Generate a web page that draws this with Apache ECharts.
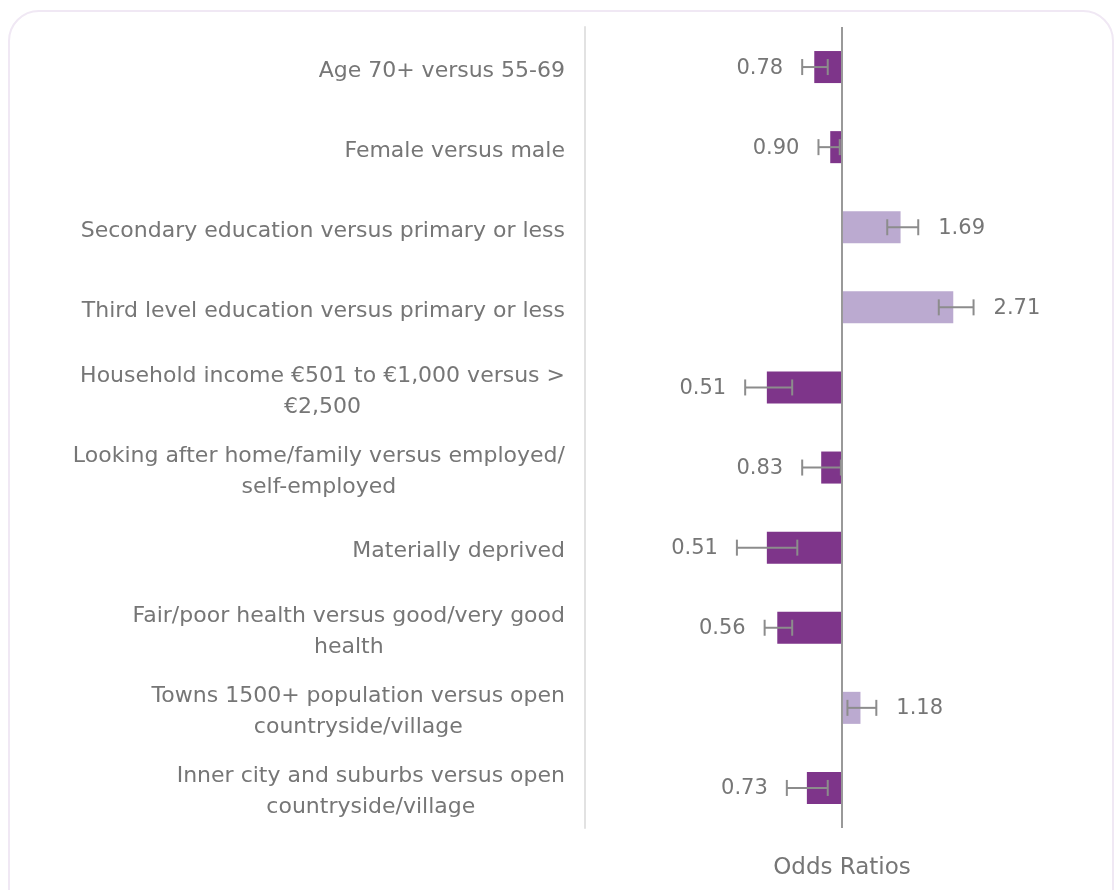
<!DOCTYPE html>
<html>
<head>
<meta charset="utf-8">
<script src="https://cdn.jsdelivr.net/npm/echarts@6/dist/echarts.min.js"></script>
<style>
  html, body { margin: 0; padding: 0; background: #fff; }
  #odds-ratio-chart { width: 1116px; height: 890px; }
</style>
</head>
<body>
<div id="odds-ratio-chart"></div>
<script>
// categories, top to bottom
const categories = [
  "Age 70+ versus 55-69",
  "Female versus male",
  "Secondary education versus primary or less",
  "Third level education versus primary or less",
  "Household income €501 to €1,000 versus >\n€2,500",
  "Looking after home/family versus employed/\nself-employed",
  "Materially deprived",
  "Fair/poor health versus good/very good\nhealth",
  "Towns 1500+ population versus open\ncountryside/village",
  "Inner city and suburbs versus open\ncountryside/village"
];
const oddsRatios = [0.78, 0.90, 1.69, 2.71, 0.51, 0.83, 0.51, 0.56, 1.18, 0.73];
// confidence interval ends
const ciLower = [0.70, 0.81, 1.50, 2.38, 0.42, 0.70, 0.39, 0.50, 1.05, 0.61];
const ciUpper = [0.88, 0.98, 1.98, 3.25, 0.64, 0.99, 0.67, 0.64, 1.36, 0.88];

const chartDom = document.getElementById("odds-ratio-chart");
const myChart = echarts.init(chartDom);

const fontFamily = "'DejaVu Sans', 'Open Sans', sans-serif";
const textColor = "#767676";
const darkPurple = "#7e358a";
const lightPurple = "#bbaad0";

let data = categories.map((c, i) => [i, oddsRatios[i], ciLower[i], ciUpper[i]]);

function renderItem(params, api) {
  const idx = api.value(0);
  const or = api.value(1);
  const lo = api.value(2);
  const hi = api.value(3);
  const base = api.coord([1, idx]);
  const end = api.coord([or, idx]);
  const pLo = api.coord([lo, idx]);
  const pHi = api.coord([hi, idx]);
  const bandH = api.size([0, 1])[1];
  const barH = bandH * 0.4;
  const y = base[1];
  const capH = 16;
  const errColor = "#8c8c8c";
  const below = or < 1;
  return {
    type: "group",
    children: [
      {
        type: "rect",
        shape: {
          x: Math.min(base[0], end[0]),
          y: y - barH / 2,
          width: Math.abs(end[0] - base[0]),
          height: barH
        },
        style: { fill: below ? darkPurple : lightPurple }
      },
      {
        type: "line",
        shape: { x1: pLo[0], y1: y, x2: pHi[0], y2: y },
        style: { stroke: errColor, lineWidth: 2 }
      },
      {
        type: "line",
        shape: { x1: pLo[0], y1: y - capH / 2, x2: pLo[0], y2: y + capH / 2 },
        style: { stroke: errColor, lineWidth: 2 }
      },
      {
        type: "line",
        shape: { x1: pHi[0], y1: y - capH / 2, x2: pHi[0], y2: y + capH / 2 },
        style: { stroke: errColor, lineWidth: 2 }
      },
      {
        type: "text",
        style: {
          text: or.toFixed(2),
          x: below ? pLo[0] - 19 : pHi[0] + 20,
          y: y + 1,
          align: below ? "right" : "left",
          verticalAlign: "middle",
          fill: textColor,
          font: "21px " + fontFamily
        }
      }
    ]
  };
}

let option = {
  animation: false,
  graphic: [
    {
      type: "rect",
      shape: { x: 9, y: 11, width: 1104, height: 920, r: 30 },
      style: { fill: "none", stroke: "#f0e8f4", lineWidth: 2 },
      z: -10
    }
  ],
  grid: {
    left: 585,
    right: 17,
    top: 27,
    bottom: 62,
    containLabel: false,
    outerBoundsMode: "none"
  },
  xAxis: {
    type: "log",
    logBase: 10,
    min: 0.1,
    max: 10,
    name: "Odds Ratios",
    nameLocation: "middle",
    nameGap: 29,
    nameTextStyle: {
      color: textColor,
      fontSize: 23,
      fontFamily: fontFamily
    },
    axisLine: { show: false },
    axisTick: { show: false },
    axisLabel: { show: false },
    splitLine: { show: false }
  },
  yAxis: {
    type: "category",
    data: categories,
    inverse: true,
    axisLine: {
      show: true,
      lineStyle: { color: "#e2e2e2", width: 2 }
    },
    axisTick: { show: false },
    splitLine: { show: false },
    axisLabel: {
      margin: 20,
      align: "right",
      padding: [8, 0, 0, 0],
      // each line centred inside the right-aligned block
      formatter: (val) => val.split("\n").map((l) => "{c|" + l + "}").join("\n"),
      rich: {
        c: {
          align: "center",
          color: textColor,
          fontSize: 22,
          fontFamily: fontFamily,
          lineHeight: 31
        }
      }
    }
  },
  series: [
    {
      type: "custom",
      renderItem: renderItem,
      encode: { x: [1, 2, 3], y: 0 },
      data: data,
      markLine: {
        silent: true,
        symbol: "none",
        label: { show: false },
        lineStyle: { color: "#999", width: 2, type: "solid" },
        data: [{ xAxis: 1 }]
      }
    }
  ]
};

myChart.setOption(option);
</script>
</body>
</html>
